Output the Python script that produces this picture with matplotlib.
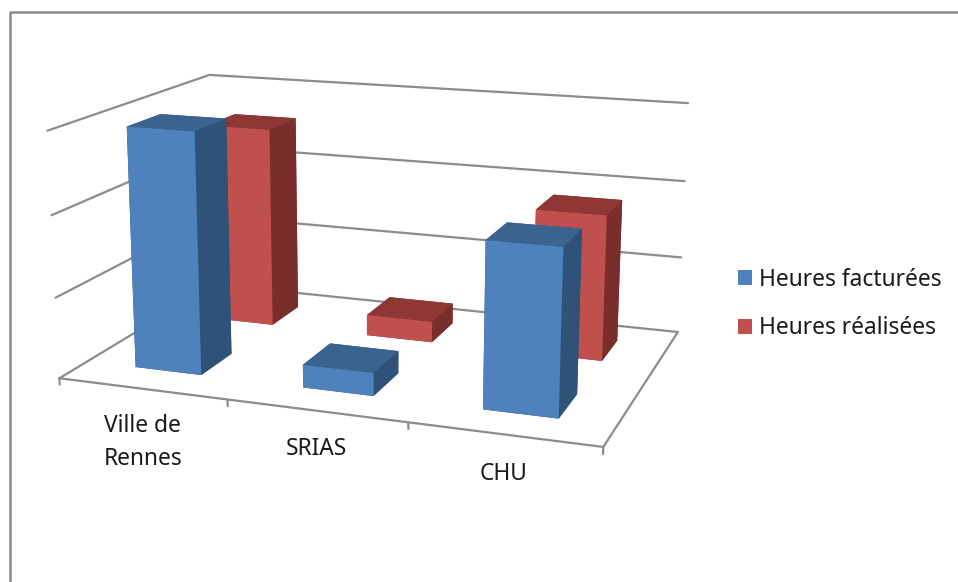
import numpy as np, matplotlib
matplotlib.use('Agg')
import matplotlib.pyplot as plt
from matplotlib.patches import Patch
from matplotlib.lines import Line2D

categories = ['Ville de\nRennes', 'SRIAS', 'CHU']
series_names = ['Heures facturées', 'Heures réalisées']
heures_facturees = [2.97, 0.28, 1.98]
heures_realisees = [2.60, 0.27, 1.84]
gridlevels = [1, 2, 3]

W, H = 958, 582
GRID = '#8c8c8c'
BLUE = ('#4f81bd', '#3a6390', '#2f5279')   # front, top, side
RED = ('#c0504d', '#8e3735', '#7a2e2c')
FONT = 'Noto Sans'
TEXT = '#1a1a1a'
FS = 16.4

fig = plt.figure(figsize=(W / 100, H / 100), dpi=100, facecolor='white')
L = 670.78
ax = fig.add_axes([36.94 / W, 0.21 / H, L / W, L / H], projection='3d', computed_zorder=False)
ax.set_axis_off()
ax.patch.set_alpha(0)
ax.set_xlim(0, 3); ax.set_ylim(0, 1); ax.set_zlim(0, 3)
ax.set_xticks([]); ax.set_yticks([]); ax.set_zticks([])
for axis in (ax.xaxis, ax.yaxis, ax.zaxis):
    axis.set_visible(False)
ax.view_init(elev=14.371, azim=-70.139)
ax.set_proj_type('persp', focal_length=0.478)
ax.set_box_aspect((3.093, 2.03, 1.406))

line = dict(color=GRID, lw=1.6, zorder=1, solid_capstyle='round')
# floor outline
ax.plot([0, 3, 3, 0, 0], [0, 0, 1, 1, 0], [0, 0, 0, 0, 0], **line)
# gridlines on the two walls
for lev in gridlevels:
    ax.plot([0, 0, 3], [0, 1, 1], [lev, lev, lev], **line)
# tick marks under the front edge
for t in range(len(categories) + 1):
    ax.plot([t, t], [0, 0], [0, -0.08], **line)

def bars(values, y0, colours, z):
    xs = np.arange(len(values)) + 0.3
    for i, (x, v) in enumerate(zip(xs, values)):
        front, top, side = colours
        faces = [top, top, front, side, side, side]
        ax.bar3d(x, y0, 0, 0.4, 0.2, v, color=faces, shade=False, zorder=z + i,
                 edgecolor='none', linewidth=0)

bars(heures_realisees, 0.655, RED, 5)
bars(heures_facturees, 0.157, BLUE, 10)

for i, c in enumerate(categories):
    ax.text(i + 0.5, 0, -0.32, c, ha='center', va='top', fontsize=FS, family=FONT,
            color=TEXT, linespacing=1.45, zorder=20)

handles = [Patch(facecolor=BLUE[0], edgecolor='none'), Patch(facecolor=RED[0], edgecolor='none')]
fig.legend(handles, series_names, loc='center left', bbox_to_anchor=(738 / W, 1 - 304 / H),
           frameon=False, prop={'family': FONT, 'size': FS}, labelcolor=TEXT,
           handlelength=0.62, handleheight=0.62, handletextpad=0.32, labelspacing=1.07,
           borderpad=0, borderaxespad=0)

# outer chart frame
fig.add_artist(Line2D([9.5 / W, 9.5 / W, 1], [0, 1 - 12 / H, 1 - 12 / H], color='#8a8a8a', lw=1.8,
                      transform=fig.transFigure))

fig.savefig('out.png', dpi=100, facecolor='white')
